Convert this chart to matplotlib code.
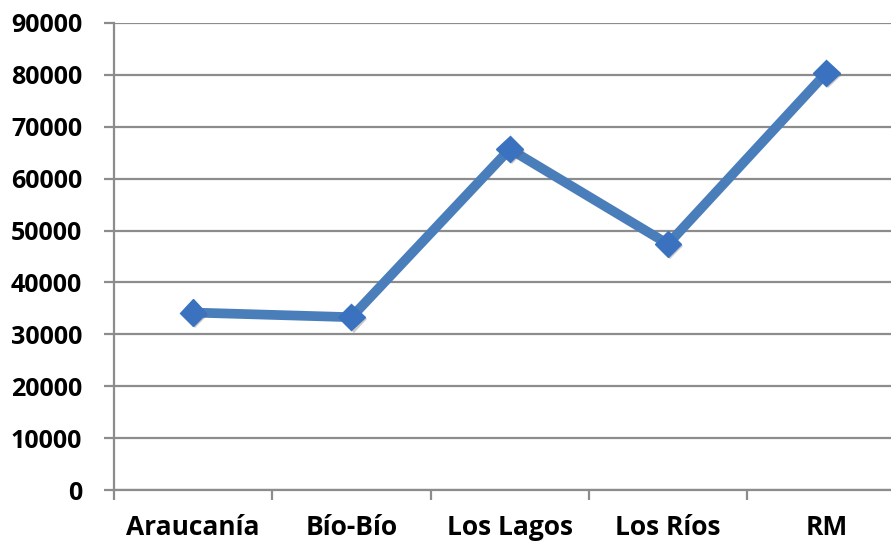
import matplotlib
matplotlib.use("Agg")
import matplotlib.pyplot as plt
import matplotlib.patheffects as pe
from matplotlib.ticker import FixedLocator

categories = ["Araucanía", "Bío-Bío", "Los Lagos", "Los Ríos", "RM"]
values = [34200, 33300, 65700, 47400, 80400]
yticks = [0, 10000, 20000, 30000, 40000, 50000, 60000, 70000, 80000, 90000]

plt.rcParams['font.family'] = ['Open Sans', 'DejaVu Sans']

fig = plt.figure(figsize=(8.91, 5.45), dpi=100)
ax = fig.add_axes([114 / 891, 55 / 545, 791.5 / 891, 467 / 545])

x = list(range(len(categories)))
line_color = "#4a7ebb"
ax.plot(x, values, color=line_color, linewidth=7, solid_joinstyle="miter", zorder=3)
ax.plot(x, values, linestyle="none", marker="D", markersize=13.5,
        markerfacecolor="#3a72c0", markeredgecolor="#3a72c0", zorder=4,
        path_effects=[pe.SimplePatchShadow(offset=(1.5, -1.5), shadow_rgbFace="#555555", alpha=0.3), pe.Normal()])

ax.set_xlim(-0.5, len(categories) - 0.5)
ax.set_ylim(0, 90000)
ax.set_yticks(yticks)
ax.set_yticklabels([str(v) for v in yticks], fontsize=18, fontweight="bold")
ax.set_xticks(x)
ax.set_xticklabels(categories, fontsize=19, fontweight="bold")
ax.xaxis.set_minor_locator(FixedLocator([i - 0.5 for i in range(len(categories) + 1)]))

grid_color = "#8c8c8c"
ax.yaxis.grid(True, color=grid_color, linewidth=1.6)
ax.set_axisbelow(True)
for s in ["top", "right"]:
    ax.spines[s].set_visible(False)
ax.spines["left"].set_color(grid_color)
ax.spines["left"].set_linewidth(1.6)
ax.spines["bottom"].set_color(grid_color)
ax.spines["bottom"].set_linewidth(1.6)

ax.tick_params(axis="y", which="major", length=7, width=1.6, color=grid_color, pad=16)
ax.tick_params(axis="x", which="major", length=0, pad=17)
ax.tick_params(axis="x", which="minor", length=7, width=1.6, color=grid_color)

fig.savefig("out.png", dpi=100)
